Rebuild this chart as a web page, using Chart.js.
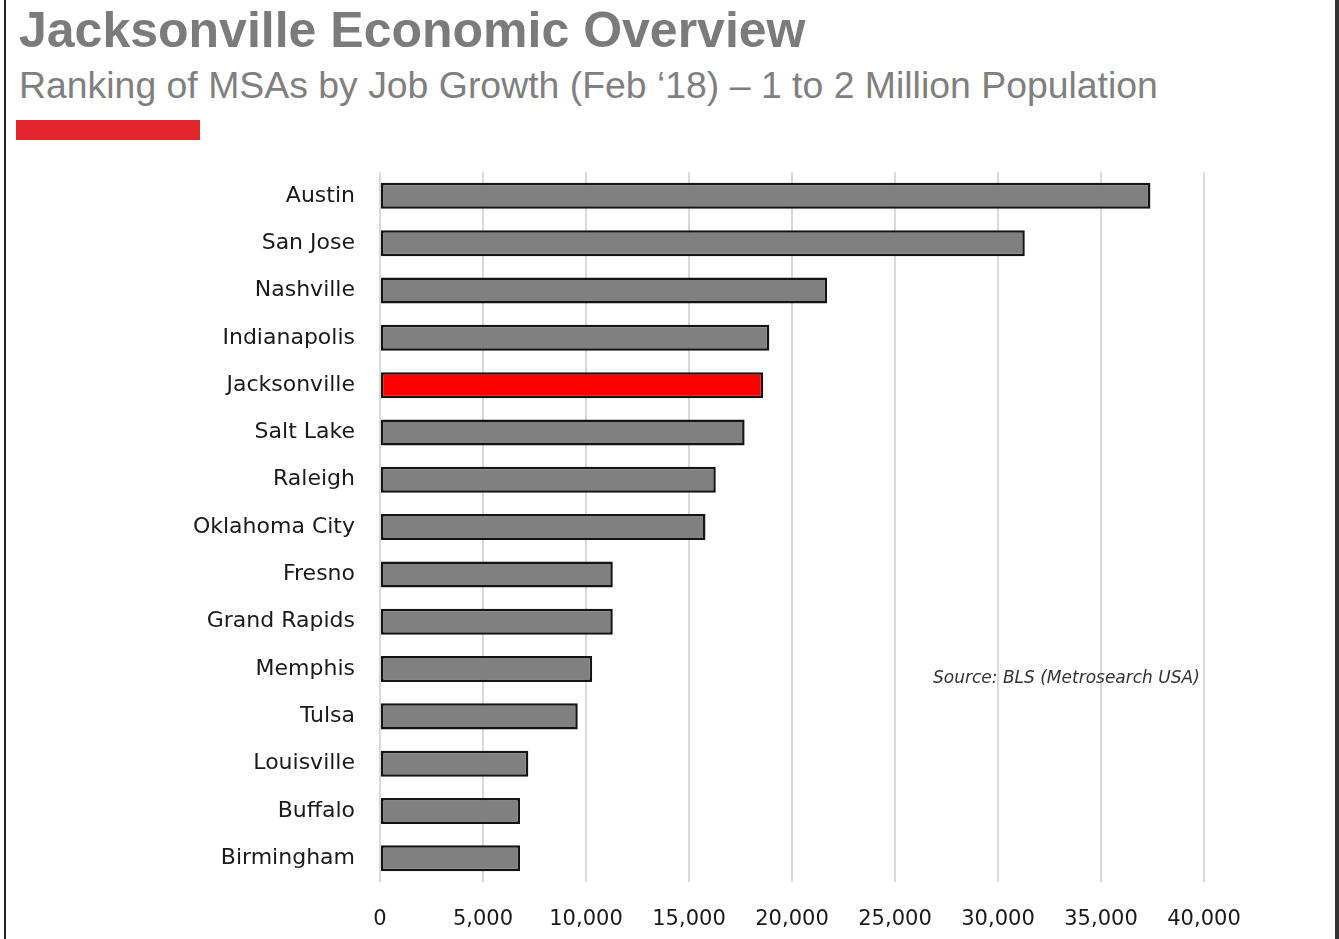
<!DOCTYPE html>
<html>
<head>
<meta charset="utf-8">
<script src="https://cdn.jsdelivr.net/npm/chart.js@4.4.0/dist/chart.umd.min.js"></script>
<style>
  body { margin: 0; background: #fff; width: 1339px; height: 939px; position: relative; overflow: hidden; }
  .title { position: absolute; left: 19px; top: 5px; font: bold 50px "Liberation Sans", Arial, sans-serif; color: #7b7b7b; line-height: 1; white-space: nowrap; }
  .subtitle { position: absolute; left: 19px; top: 67px; font: 37.4px "Liberation Sans", Arial, sans-serif; color: #7f7f7f; line-height: 1; white-space: nowrap; }
  .redbar { position: absolute; left: 16px; top: 120px; width: 184px; height: 20px; background: #e0262a; }
  .edge-left { position: absolute; left: 4px; top: 0; width: 2px; height: 939px; background: #222; }
  .edge-right { position: absolute; left: 1335px; top: 0; width: 4px; height: 939px; background: #333; }
  .source { position: absolute; left: 933px; top: 667px; font: italic 17px "DejaVu Sans", sans-serif; color: #333; white-space: nowrap; }
  #chart { position: absolute; left: 0; top: 134px; }
</style>
</head>
<body>
<div class="edge-left"></div>
<div class="edge-right"></div>
<div class="title">Jacksonville Economic Overview</div>
<div class="subtitle">Ranking of MSAs by Job Growth (Feb ‘18) – 1 to 2 Million Population</div>
<div class="redbar"></div>
<canvas id="chart" width="1339" height="805"></canvas>
<div class="source">Source: BLS (Metrosearch USA)</div>
<script>
// MSAs ranked by jobs added, Feb '18
const cities = ['Austin', 'San Jose', 'Nashville', 'Indianapolis', 'Jacksonville', 'Salt Lake',
  'Raleigh', 'Oklahoma City', 'Fresno', 'Grand Rapids', 'Memphis', 'Tulsa', 'Louisville',
  'Buffalo', 'Birmingham'];
const jobGrowth = [37400, 31300, 21700, 18900, 18600, 17700, 16300, 15800, 11300, 11300,
  10300, 9600, 7200, 6800, 6800];
const highlight = 'Jacksonville';
const xTicks = [0, 5000, 10000, 15000, 20000, 25000, 30000, 35000, 40000];

const barColors = cities.map(c => c === highlight ? '#ff0000' : '#808080');

new Chart(document.getElementById('chart'), {
  type: 'bar',
  data: {
    labels: cities,
    datasets: [{
      data: jobGrowth,
      backgroundColor: barColors,
      borderColor: '#141414',
      borderWidth: 2.5,
      borderSkipped: false,
      barPercentage: 0.55,
      categoryPercentage: 1
    }]
  },
  options: {
    indexAxis: 'y',
    responsive: false,
    animation: false,
    // y tick padding already pushes the plot top down ~38px
    layout: { padding: { left: 0, right: 135, top: 0, bottom: 0 } },
    plugins: { legend: { display: false }, tooltip: { enabled: false } },
    scales: {
      x: {
        min: xTicks[0],
        max: xTicks[xTicks.length - 1],
        afterBuildTicks: scale => { scale.ticks = xTicks.map(v => ({ value: v })); },
        afterFit: scale => { scale.height = 57; },
        grid: { color: '#d9d9d9', lineWidth: 2, drawTicks: false },
        border: { display: false },
        ticks: {
          padding: 25,
          color: '#1a1a1a',
          font: { family: 'DejaVu Sans', size: 21 },
          callback: v => v.toLocaleString('en-US')
        }
      },
      y: {
        afterFit: scale => { scale.width = 380; },
        grid: { display: false, drawTicks: false },
        border: { display: false },
        ticks: {
          padding: 25,
          color: '#1a1a1a',
          font: { family: 'DejaVu Sans', size: 22 }
        }
      }
    }
  }
});
</script>
</body>
</html>
